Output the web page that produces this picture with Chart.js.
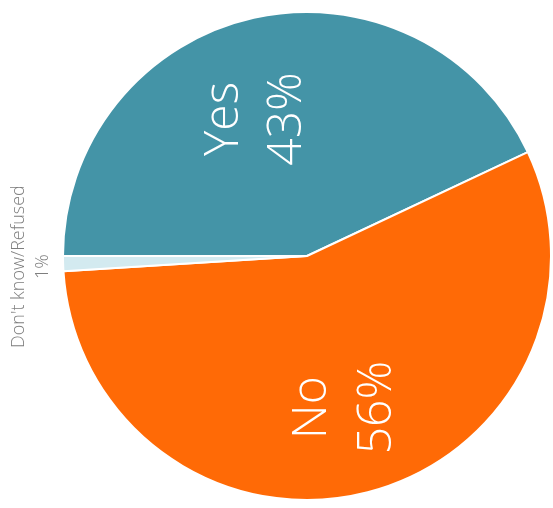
<!DOCTYPE html>
<html>
<head>
<meta charset="utf-8">
<script src="https://cdn.jsdelivr.net/npm/chart.js@4/dist/chart.umd.min.js"></script>
<style>
  html, body { margin: 0; padding: 0; background: #ffffff; }
  #wrap { width: 553px; height: 508px; }
</style>
</head>
<body>
<div id="wrap"><canvas id="c" width="553" height="508"></canvas></div>
<script>
const categories = ["Yes", "No", "Don't know/Refused"];
const shares = [43, 56, 1];
const shareLabels = ["43%", "56%", "1%"];
const sliceColors = ["#4494a7", "#ff6a06", "#d3eaf0"];

// label placement: inside slices for large ones, outside for the tiny one
const labelStyle = [
  { inside: true, rFrac: 0.60, dAngle: -8.0, size: 48, color: "#ffffff", gap: 63 },
  { inside: true, rFrac: 0.64, dAngle: 0.5, size: 48, color: "#ffffff", gap: 65 },
  { inside: false, rOut: 32, dAngle: -0.4, size: 18, color: "#7e7e7e", gap: 24 }
];

const rotatedLabels = {
  id: "rotatedLabels",
  afterDatasetsDraw(chart) {
    const ctx = chart.ctx;
    const meta = chart.getDatasetMeta(0);
    meta.data.forEach((arc, i) => {
      const p = arc.getProps(["x", "y", "startAngle", "endAngle", "outerRadius"], true);
      const st = labelStyle[i];
      const mid = (p.startAngle + p.endAngle) / 2 + st.dAngle * Math.PI / 180;
      const dist = st.inside ? p.outerRadius * st.rFrac : p.outerRadius + st.rOut;
      const px = p.x + Math.cos(mid) * dist;
      const py = p.y + Math.sin(mid) * dist;
      ctx.save();
      ctx.translate(px, py);
      ctx.rotate(-Math.PI / 2);
      ctx.fillStyle = st.color;
      ctx.textAlign = "center";
      ctx.textBaseline = "middle";
      ctx.font = "300 " + st.size + "px 'Open Sans', Lato, sans-serif";
      ctx.fillText(categories[i], 0, -st.gap / 2);
      ctx.fillText(shareLabels[i], 0, st.gap / 2);
      ctx.restore();
    });
  }
};

new Chart(document.getElementById("c"), {
  type: "pie",
  data: {
    labels: categories,
    datasets: [{
      data: shares,
      backgroundColor: sliceColors,
      borderColor: "#ffffff",
      borderWidth: 2
    }]
  },
  options: {
    responsive: false,
    animation: false,
    rotation: 270,
    layout: { padding: { left: 61, right: 0, top: 11, bottom: 7 } },
    plugins: {
      legend: { display: false },
      tooltip: { enabled: false }
    }
  },
  plugins: [rotatedLabels]
});
</script>
</body>
</html>
